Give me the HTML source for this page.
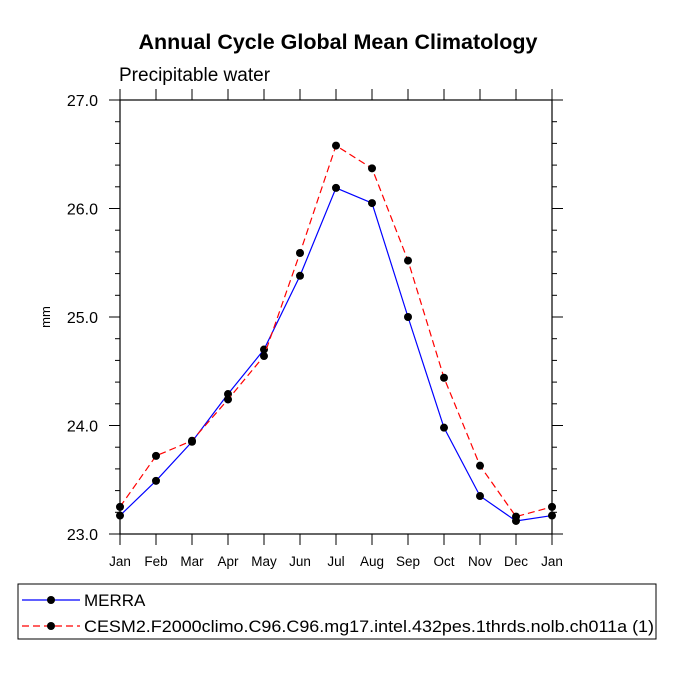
<!DOCTYPE html>
<html><head><meta charset="utf-8"><style>body{margin:0;background:#fff}svg{display:block;font-family:"Liberation Sans",sans-serif}</style></head>
<body>
<svg id="chart" width="675" height="675">
<text x="338" y="49" text-anchor="middle" font-size="21.5" font-weight="bold">Annual Cycle Global Mean Climatology</text>
<text x="119" y="81" font-size="19">Precipitable water</text>
<text x="50" y="317" font-size="13" text-anchor="middle" transform="rotate(-90 50 317)">mm</text>
<g id="axes"></g>
<g id="series"></g>
<rect x="18" y="584" width="638" height="55" fill="none" stroke="#000" stroke-width="1"/>
<g>
<line x1="22" y1="600" x2="80" y2="600" stroke="#00f" stroke-width="1.2"/><circle cx="51" cy="600" r="4"/>
<text x="84" y="606" font-size="17">MERRA</text></g>
<g>
<line x1="22" y1="626" x2="80" y2="626" stroke="#f00" stroke-width="1.2" stroke-dasharray="7,4"/><circle cx="51" cy="626" r="4"/>
<text x="84" y="632" font-size="17" textLength="570" lengthAdjust="spacingAndGlyphs">CESM2.F2000climo.C96.C96.mg17.intel.432pes.1thrds.nolb.ch011a (1)</text></g>
</svg>
<script>
const months=["Jan","Feb","Mar","Apr","May","Jun","Jul","Aug","Sep","Oct","Nov","Dec","Jan"];
const merra=[23.17,23.49,23.85,24.29,24.70,25.38,26.19,26.05,25.00,23.98,23.35,23.12,23.17];
const cesm=[23.25,23.72,23.86,24.24,24.64,25.59,26.58,26.37,25.52,24.44,23.63,23.16,23.25];
const yTicks=[23.0,24.0,25.0,26.0,27.0];
const L=120,R=552,T=100,B=534,yMin=23,yMax=27;
const xs=i=>L+(R-L)*i/(months.length-1);
const ys=v=>B-(v-yMin)/(yMax-yMin)*(B-T);
const NS="http://www.w3.org/2000/svg";
function mk(t,a,p){const e=document.createElementNS(NS,t);for(const k in a)e.setAttribute(k,a[k]);p.appendChild(e);return e;}
const ax=document.getElementById('axes');
const fr=mk('rect',{x:L,y:T,width:R-L,height:B-T,fill:'none',stroke:'#000','stroke-width':1.2},ax);


months.forEach((m,i)=>{const x=xs(i);
mk('line',{x1:x,y1:B,x2:x,y2:B+11,stroke:'#000'},ax);
mk('line',{x1:x,y1:T,x2:x,y2:T-11,stroke:'#000'},ax);
const t=mk('text',{x:x,y:B+32,'text-anchor':'middle','font-size':13.5},ax);t.textContent=m;

});
for(let v=yMin;v<=yMax+1e-6;v+=0.2){const y=ys(v);const major=Math.abs(v-Math.round(v))<1e-6;const len=major?11:5;
mk('line',{x1:L,y1:y,x2:L-len,y2:y,stroke:'#000'},ax);
mk('line',{x1:R,y1:y,x2:R+len,y2:y,stroke:'#000'},ax);}
yTicks.forEach(v=>{const t=mk('text',{x:L-22,y:ys(v)+6,'text-anchor':'end','font-size':16},ax);t.textContent=v.toFixed(1);

});
const sg=document.getElementById('series');
function draw(d,col,dash,name){const g=mk('g',{},sg);


mk('polyline',{points:d.map((v,i)=>xs(i)+','+ys(v)).join(' '),fill:'none',stroke:col,'stroke-width':1.2,'stroke-dasharray':dash},g);
d.forEach((v,i)=>mk('circle',{cx:xs(i),cy:ys(v),r:4,fill:'#000'},g));}
draw(merra,'#00f','none','merra-series');
draw(cesm,'#f00','7,4','cesm2-series');
</script>
</body></html>
